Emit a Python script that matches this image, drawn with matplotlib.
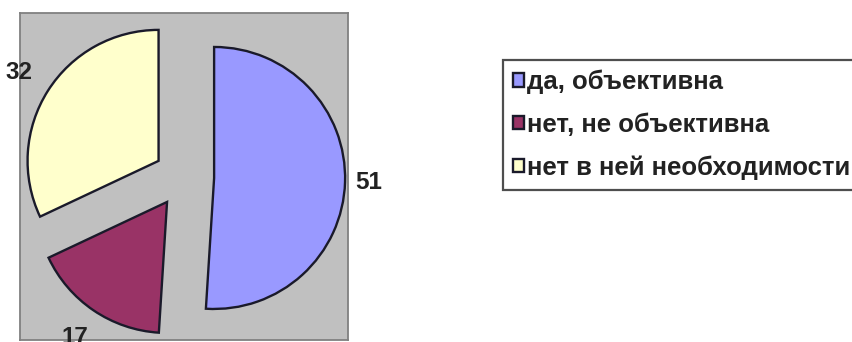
import numpy as np
import matplotlib.pyplot as plt

plt.rcParams['font.family'] = ['Liberation Sans', 'DejaVu Sans']

# survey answers, percent
answers = ['да, объективна', 'нет, не объективна', 'нет в ней необходимости']
shares = [51, 17, 32]
colors = ['#9999FF', '#993366', '#FFFFCC']

# how far each value label sits from its wedge's centre, in radii
label_dist = [1.18, 1.25, 1.26]

fig = plt.figure(figsize=(8.53, 3.42), dpi=100)
ax = fig.add_axes([20 / 853, 2 / 342, 328 / 853, 327 / 342])
ax.set_facecolor('#C0C0C0')

wedges, _ = ax.pie(
    shares,
    colors=colors,
    startangle=90,
    counterclock=False,
    explode=[0.23] * len(shares),
    wedgeprops={'edgecolor': '#1a1a2a', 'linewidth': 1.7},
    frame=True,
)

# value labels outside each wedge
for w, v, d in zip(wedges, shares, label_dist):
    mid = np.deg2rad((w.theta1 + w.theta2) / 2)
    cx, cy = w.center
    x = cx + d * w.r * np.cos(mid)
    y = cy + d * w.r * np.sin(mid)
    ax.text(x, y, str(v), ha='center', va='center', fontsize=17.5,
            fontweight='bold', color='#222222', clip_on=False)

ax.set_xlim(-1.252, 1.252)
ax.set_ylim(-1.244, 1.252)
ax.set_xticks([])
ax.set_yticks([])
for s in ax.spines.values():
    s.set_color('#808080')
    s.set_linewidth(1.3)

leg = fig.legend(
    wedges, answers,
    loc='upper left',
    bbox_to_anchor=(503 / 853, 1 - 60 / 342),
    borderaxespad=0,
    prop={'weight': 'bold', 'size': 18.5},
    handlelength=0.42,
    handleheight=0.42,
    handletextpad=0.15,
    labelspacing=0.72,
    borderpad=0.38,
    fancybox=False,
    frameon=True,
)
leg.get_frame().set_edgecolor('#222222')
leg.get_frame().set_linewidth(1.6)
for t in leg.get_texts():
    t.set_color('#222222')

fig.savefig('out.png', dpi=100)
